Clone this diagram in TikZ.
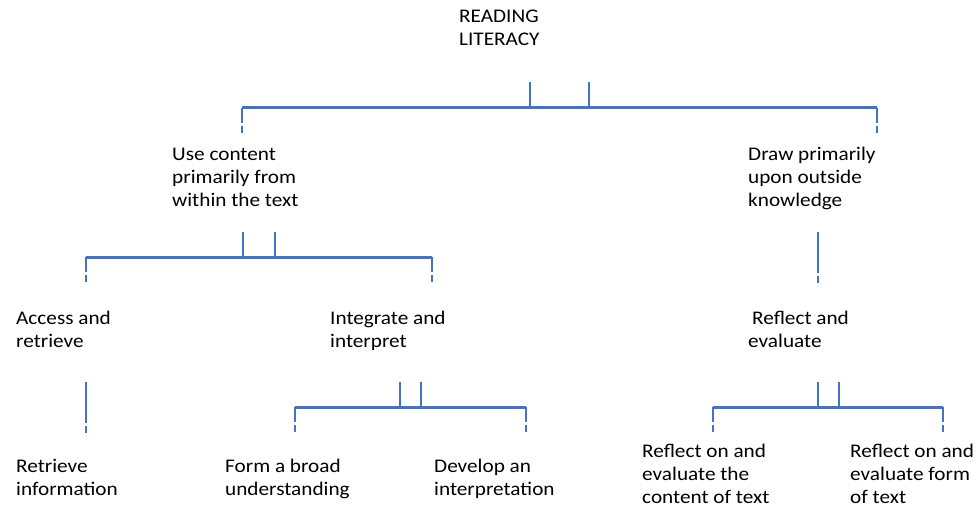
\documentclass[tikz,border=0pt]{standalone}
\usepackage{fontspec}
\setmainfont{Carlito}[FakeStretch=1.1]
\definecolor{linkblue}{RGB}{68,114,196}
\begin{document}
\begin{tikzpicture}[x=1pt, y=-1pt,
		every node/.style={anchor=base west, align=left, inner sep=0pt,
		font=\fontsize{19.3}{22.9}\selectfont},
		stem/.style={draw=linkblue, line width=2pt},
		bar/.style={draw=linkblue, line width=2.8pt, line cap=square},
		drop/.style={stem, dash pattern=on 15pt off 3pt on 7pt},
		longdrop/.style={stem, dash pattern=on 41pt off 3pt on 7pt} ]
	\useasboundingbox (0,0) rectangle (978,512);
	% texts (placed at the baseline of their last line)
	\node (lit) at (459,45.4) {READING\\LITERACY};
	\node (use) at (172,206.4) {Use content\\primarily from\\within the text};
	\node (out) at (748,206.4) {Draw primarily\\upon outside\\knowledge};
	\node (acc) at (16,347) {Access and\\retrieve};
	\node (int) at (330,347) {Integrate and\\interpret};
	\node (ref) at (748,347) {\hspace*{4pt}Reflect and\\evaluate};
	\node (ret) at (16,495) {Retrieve\\information};
	\node (brd) at (225,495) {Form a broad\\understanding};
	\node (dev) at (434,495) {Develop an\\interpretation};
	\node (con) at (642,503.6) {Reflect on and\\evaluate the\\content of text};
	\node (frm) at (850,503.6) {Reflect on and\\evaluate form\\of text};
	% reading literacy
	\coordinate (lit1) at (530,82);
	\coordinate (lit2) at (589,82);
	\coordinate (litL) at (242,107.5);
	\coordinate (litR) at (877,107.5);
	\draw[stem] (lit1) -- (lit1 |- litL);
	\draw[stem] (lit2) -- (lit2 |- litL);
	\draw[bar] (litL) -- (litR);
	\draw[drop] (litL) -- ++(0,25);
	\draw[drop] (litR) -- ++(0,25);
	% use content
	\coordinate (use1) at (243,232);
	\coordinate (use2) at (275,232);
	\coordinate (useL) at (86,257.3);
	\coordinate (useR) at (432,257.3);
	\draw[stem] (use1) -- (use1 |- useL);
	\draw[stem] (use2) -- (use2 |- useL);
	\draw[bar] (useL) -- (useR);
	\draw[drop] (useL) -- ++(0,25.5);
	\draw[drop] (useR) -- ++(0,25.5);
	% outside knowledge
	\coordinate (out1) at (817.5,232);
	\draw[longdrop] (out1) -- ++(0,51);
	% access and retrieve
	\coordinate (acc1) at (86,382);
	\draw[longdrop] (acc1) -- ++(0,51);
	% integrate and interpret
	\coordinate (int1) at (400,382);
	\coordinate (int2) at (421,382);
	\coordinate (intL) at (295,407.3);
	\coordinate (intR) at (526,407.3);
	\draw[stem] (int1) -- (int1 |- intL);
	\draw[stem] (int2) -- (int2 |- intL);
	\draw[bar] (intL) -- (intR);
	\draw[drop] (intL) -- ++(0,25.5);
	\draw[drop] (intR) -- ++(0,25.5);
	% reflect and evaluate
	\coordinate (ref1) at (817.5,382);
	\coordinate (ref2) at (839,382);
	\coordinate (refL) at (712.7,407.3);
	\coordinate (refR) at (943.3,407.3);
	\draw[stem] (ref1) -- (ref1 |- refL);
	\draw[stem] (ref2) -- (ref2 |- refL);
	\draw[bar] (refL) -- (refR);
	\draw[drop] (refL) -- ++(0,25.5);
	\draw[drop] (refR) -- ++(0,25.5);
\end{tikzpicture}
\end{document}
